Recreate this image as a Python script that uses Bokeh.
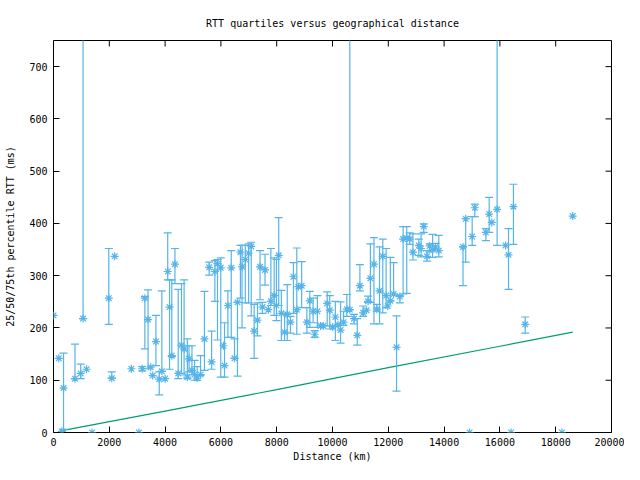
import numpy as np
from bokeh.plotting import figure
from bokeh.models import Range1d, FixedTicker, ColumnDataSource
from bokeh.embed import file_html
from bokeh.resources import INLINE

N = None
# distance (km), median RTT (ms), lower bar end, upper bar end
dist = [0, 190, 300, 360, 770, 975, 1060, 1186, 1384, 1982, 2088, 2193, 2791, 3062,
        3180, 3274, 3390, 3485, 3555, 3672, 3790, 3883, 4000, 4094, 4160, 4240, 4353,
        4470, 4587, 4681, 4798, 4857, 4963, 5058, 5150, 5270, 5410, 5580, 5667, 5784,
        5878, 5995, 6090, 6130, 6250, 6371, 6488, 6594, 6700, 6758, 6875, 6994, 7087,
        7192, 7311, 7403, 7488, 7581, 7700, 7791, 7910, 7990, 8072, 8166, 8283, 8378,
        8494, 8600, 8720, 8776, 8895, 9082, 9187, 9305, 9363, 9458, 9574, 9669, 9810,
        9902, 10009, 10102, 10197, 10289, 10394, 10514, 10620, 10771, 10888, 10982,
        11098, 11218, 11275, 11358, 11486, 11591, 11686, 11802, 11922, 11980, 12074,
        12190, 12296, 12415, 12531, 12661, 12766, 12883, 13094, 13175, 13270, 13388,
        13482, 13588, 13693, 13809, 14678, 14774, 14914, 15006, 15100, 15498, 15616,
        15710, 15900, 16203, 16309, 16403, 16485, 16907, 18223, 18610]
median = [224, 142, 2, 85, 103, 113, 218, 121, 0, 257, 104, 337, 122, 0,
          122, 257, 216, 125, 109, 174, 102, 117, 103, 308, 240, 147, 322,
          113, 167, 160, 106, 141, 119, 111, 104, 111, 179, 316, 135, 308,
          323, 315, 166, 128, 243, 315, 142, 249, 345, 317, 331, 343, 356,
          194, 215, 317, 240, 311, 235, 251, 262, 243, 339, 228, 192, 226,
          211, 298, 235, 279, 281, 211, 252, 232, 188, 232, 204, 204, 247,
          234, 202, 221, 206, 196, 211, 236, 235, 218, 186, 281,
          229, 234, 251, 295, 322, 236, 271, 337, 262, 242, 252,
          265, 163, 260, 370, 372, 370, 345, 358, 352, 394, 337,
          357, 350, 355, 348, 355, 409, 0, 375, 430, 383, 418,
          402, 427, 358, 340, 0, 432, 207, 0, 414]
q_low = [N, N, N, 6, 103, 103, 218, N, N, 207, 104, N, N, N,
         118, 160, 122, N, N, 128, 72, 117, N, 292, 121, 145, 285,
         103, 113, 110, 103, 116, 110, 100, 100, 109, 119, 301, 121, 251,
         177, 106, N, 106, 182, 182, 142, 108, 257, 200, 248, 248, 223,
         142, 185, 254, 228, 282, N, 243, 224, 214, 243, 176, 176, 176,
         190, 228, 188, N, 239, 190, 201, 210, 182, 201, N, N, 204,
         198, N, 176, N, 171, 205, 222, 235, 208, 167, 271,
         222, N, 249, 249, 208, 232, 208, 229, 239, N, 252,
         265, 79, 248, 265, 266, 360, 330, 339, 336, 383, 328,
         345, 335, 348, 336, 281, 326, N, 358, 413, 367, 383,
         N, 358, N, 274, N, 360, 190, N, N]
q_high = [N, N, N, 152, 169, 131, 1200, N, N, 352, 116, N, N, N,
          126, 260, 273, N, N, 224, 116, 271, N, 382, 292, 292, 352,
          274, 285, 292, 179, 166, 166, 138, 126, 147, 270, 326, 194, 329,
          331, 334, N, 210, 271, 348, 179, 249, 358, 358, 358, 361, 364,
          245, 248, 348, 249, 341, N, 352, 334, 331, 411, 272, 228, 283,
          222, 325, 353, N, 327, 239, 270, 257, 195, 262, N, N, 269,
          262, N, 251, N, 250, 232, 264, 1200, 226, 218, 321,
          242, N, 261, 361, 373, 245, 355, 370, 352, N, 335,
          325, 223, 262, 394, 394, 382, 380, 370, 380, 399, 348,
          361, 379, 362, 377, 355, 409, N, 413, 437, 390, 450,
          N, 1200, N, 390, N, 475, 221, N, N]

# propagation-delay reference line
line_dist = [250, 4000, 8000, 12000, 16000, 18610]
line_rtt = [3, 41, 82, 124, 165, 192]

x_ticks = list(range(0, 20001, 2000))
y_ticks = list(range(0, 701, 100))
x_max = 20000
y_max = 750

blue = "#56B4E9"
green = "#009E73"
font = "DejaVu Sans Mono"

def arr(a):
    return np.array([np.nan if v is None else v for v in a], dtype=float)

src = ColumnDataSource(dict(x=arr(dist), y=arr(median), lo=arr(q_low), hi=arr(q_high)))

p = figure(width=624, height=464, x_range=Range1d(0, x_max), y_range=Range1d(0, y_max),
           output_backend="svg", toolbar_location=None,
           min_border_left=53, min_border_right=13, min_border_top=40, min_border_bottom=30,
           title="RTT quartiles versus geographical distance")
p.title.align = "center"
p.title.text_font = font
p.title.text_font_size = "10px"
p.title.text_font_style = "normal"
p.title.text_color = "black"
p.title.standoff = 24

p.xgrid.visible = False
p.ygrid.visible = False
p.outline_line_color = "black"
p.outline_line_alpha = 1.0
p.outline_line_width = 1
p.background_fill_color = "white"
p.border_fill_color = "white"

def style(ax, ticks):
    ax.ticker = FixedTicker(ticks=ticks)
    ax.major_tick_in = 6
    ax.major_tick_out = 0
    ax.minor_tick_line_color = None
    ax.axis_line_color = None
    ax.major_tick_line_color = "black"
    ax.major_label_text_font = font
    ax.major_label_text_font_size = "10px"
    ax.major_label_text_color = "black"
    ax.major_label_standoff = 6
    ax.axis_label_text_font = font
    ax.axis_label_text_font_size = "10px"
    ax.axis_label_text_font_style = "normal"
    ax.axis_label_text_color = "black"

style(p.xaxis[0], x_ticks)
style(p.yaxis[0], y_ticks)
p.xaxis[0].axis_label = "Distance (km)"
p.xaxis[0].axis_label_standoff = 2
p.xaxis[0].major_label_standoff = 5
p.yaxis[0].axis_label = "25/50/75th percentile RTT (ms)"
p.yaxis[0].axis_label_standoff = 10

# mirrored ticks on the top and right borders
p.ray(x=x_ticks, y=[y_max] * len(x_ticks), length=6, length_units="screen",
      angle=-np.pi / 2, line_color="black", line_width=1)
p.ray(x=[x_max] * len(y_ticks), y=y_ticks, length=6, length_units="screen",
      angle=np.pi, line_color="black", line_width=1)

p.line(line_dist, line_rtt, line_color=green, line_width=1.2)
p.segment(x0="x", y0="lo", x1="x", y1="hi", source=src, line_color=blue, line_width=1.2)
p.scatter(x="x", y="lo", source=src, marker="dash", size=8, line_color=blue, line_width=1.2)
p.scatter(x="x", y="hi", source=src, marker="dash", size=8, line_color=blue, line_width=1.2)
p.scatter(x="x", y="y", source=src, marker="asterisk", size=8, line_color=blue, line_width=1.2)

open("out.html", "w").write(file_html(p, INLINE))
